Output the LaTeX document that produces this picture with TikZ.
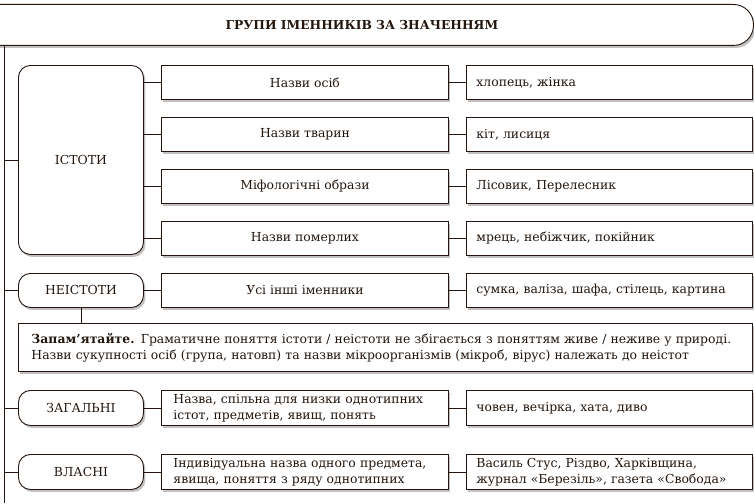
\documentclass[tikz,border=0pt]{standalone}
\usepackage{fontspec}
\setmainfont{DejaVu Serif}
\usetikzlibrary{shadows}
\definecolor{ink}{HTML}{22160E}
\begin{document}
\begin{tikzpicture}[x=1pt,y=-1pt,
  font=\fontsize{12.4}{16}\selectfont, text=ink,
  base/.style={draw=ink, line width=0.9pt, fill=white, anchor=north west, inner sep=0pt,
    drop shadow={shadow xshift=2pt, shadow yshift=-2.5pt, opacity=0.35, fill=black!70}},
  catbox/.style={base, rounded corners=12pt, minimum width=125pt},
  midbox/.style={base, minimum width=287pt, minimum height=34pt},
  midleft/.style={midbox, text width=263pt, inner xsep=12pt, align=left},
  rbox/.style={base, minimum width=286pt, minimum height=34pt, text width=266pt, inner xsep=10pt, align=left},
  conn/.style={draw=ink, line width=0.9pt}]
\useasboundingbox (0,0) rectangle (754,503);
% title
\node[base, rounded corners=20pt, minimum width=783pt, minimum height=41pt,
  font=\fontsize{12.3}{14}\selectfont\bfseries] (title) at (-30,4) {ГРУПИ ІМЕННИКІВ ЗА ЗНАЧЕННЯМ};
\coordinate (spinetop) at (4,45);
\coordinate (spinebot) at (4,503);
% category boxes
\node[catbox, minimum height=189pt] (istoty) at (18,65) {ІСТОТИ};
\node[catbox, minimum height=34pt] (neistoty) at (18,273) {НЕІСТОТИ};
\node[catbox, minimum height=35pt] (zah) at (18,390) {ЗАГАЛЬНІ};
\node[catbox, minimum height=35pt] (vlas) at (18,454) {ВЛАСНІ};
% middle boxes
\node[midbox] (m1) at (161,65) {Назви осіб};
\node[midbox] (m2) at (161,117) {Назви тварин};
\node[midbox] (m3) at (161,169) {Міфологічні образи};
\node[midbox] (m4) at (161,221) {Назви померлих};
\node[midbox] (m5) at (161,273) {Усі інші іменники};
\node[midleft, minimum height=35pt] (m6) at (161,390) {\mbox{Назва, спільна для низки однотипних}\\\mbox{істот, предметів, явищ, понять}};
\node[midleft, minimum height=35pt] (m7) at (161,454) {\mbox{Індивідуальна назва одного предмета,}\\\mbox{явища, поняття з ряду однотипних}};
% right boxes
\node[rbox] (r1) at (466,65) {хлопець, жінка};
\node[rbox] (r2) at (466,117) {кіт, лисиця};
\node[rbox] (r3) at (466,169) {Лісовик, Перелесник};
\node[rbox] (r4) at (466,221) {мрець, небіжчик, покійник};
\node[rbox] (r5) at (466,273) {\mbox{сумка, валіза, шафа, стілець, картина}};
\node[rbox, minimum height=35pt] (r6) at (466,390) {човен, вечірка, хата, диво};
\node[rbox, minimum height=35pt] (r7) at (466,454) {\mbox{Василь Стус, Різдво, Харківщина,}\\\mbox{журнал «Березіль», газета «Свобода»}};
% note
\node[base, minimum width=734pt, minimum height=48pt, text width=708pt, inner xsep=13pt, align=left] (note) at (18,323)
  {\mbox{\textbf{Запам’ятайте.} Граматичне поняття істоти / неістоти не збігається з поняттям живе / неживе у природі.}\\\mbox{Назви сукупності осіб (група, натовп) та назви мікроорганізмів (мікроб, вірус) належать до неістот}};
% connectors
\draw[conn] (spinetop) -- (spinebot);
\foreach \n in {istoty,neistoty,zah,vlas}
  \draw[conn] (\n.west) -- (\n.west -| spinetop);
\foreach \n in {m1,m2,m3,m4}
  \draw[conn] (\n.west) -- (\n.west -| istoty.east);
\draw[conn] (m5.west) -- (neistoty.east);
\draw[conn] (m6.west) -- (zah.east);
\draw[conn] (m7.west) -- (vlas.east);
\foreach \i in {1,...,7}
  \draw[conn] (m\i.east) -- (r\i.west);
\draw[conn] (neistoty.south) -- (neistoty.south |- note.north);
\end{tikzpicture}
\end{document}
